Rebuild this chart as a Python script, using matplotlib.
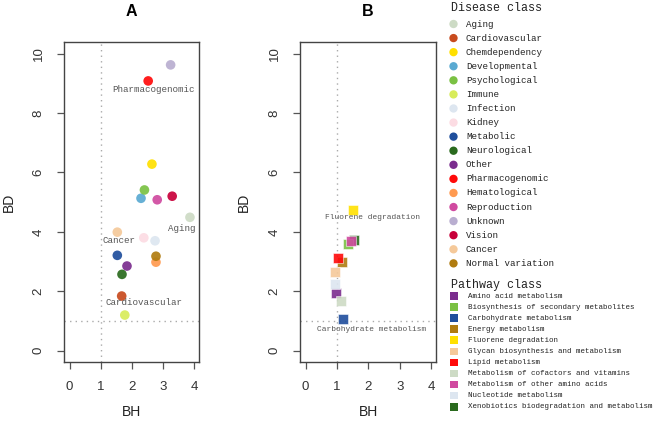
import matplotlib
matplotlib.use("Agg")
import matplotlib.pyplot as plt

# ---------------- data ----------------
disease_classes = ["Aging", "Cardiovascular", "Chemdependency", "Developmental",
                   "Psychological", "Immune", "Infection", "Kidney", "Metabolic",
                   "Neurological", "Other", "Pharmacogenomic", "Hematological",
                   "Reproduction", "Unknown", "Vision", "Cancer", "Normal variation"]
disease_colors = ["#cddbc5", "#c84b1e", "#ffe000", "#5aaad2", "#7ac143", "#d8ec5a",
                  "#dde6f0", "#fcdce3", "#1f4e9c", "#2a6a1e", "#7b2d8e", "#ff0a0a",
                  "#ff9a50", "#d04aa0", "#b9aed0", "#c8003a", "#f5c99a", "#b07c10"]
disease_bh = [3.86, 1.67, 2.64, 2.29, 2.40, 1.77, 2.74, 2.38, 1.53,
              1.68, 1.84, 2.52, 2.77, 2.81, 3.24, 3.29, 1.53, 2.77]
disease_bd = [4.49, 1.84, 6.28, 5.13, 5.41, 1.20, 3.70, 3.80, 3.21,
              2.57, 2.85, 9.08, 2.98, 5.08, 9.62, 5.20, 3.99, 3.18]

pathway_classes = ["Amino acid metabolism", "Biosynthesis of secondary metabolites",
                   "Carbohydrate metabolism", "Energy metabolism", "Fluorene degradation",
                   "Glycan biosynthesis and metabolism", "Lipid metabolism",
                   "Metabolism of cofactors and vitamins", "Metabolism of other amino acids",
                   "Nucleotide metabolism", "Xenobiotics biodegradation and metabolism"]
pathway_colors = ["#7b2d8e", "#7ac143", "#1f4e9c", "#b07c10", "#ffe000", "#f5c99a",
                  "#ff0a0a", "#cddbc5", "#d04aa0", "#dde6f0", "#2a6a1e"]
pathway_bh = [0.98, 1.36, 1.18, 1.15, 1.50, 0.95, 1.02, 1.14, 1.45, 0.95, 1.55]
pathway_bd = [1.93, 3.60, 1.08, 2.98, 4.73, 2.64, 3.13, 1.67, 3.70, 2.25, 3.74]

# annotated classes: (label, x, y)
a_labels = ["Pharmacogenomic", "Aging", "Cancer", "Cardiovascular"]
a_label_x = [2.68, 3.61, 1.59, 2.39]
a_label_y = [8.80, 4.12, 3.72, 1.62]
b_labels = ["Fluorene degradation", "Carbohydrate metabolism"]
b_label_x = [2.13, 2.10]
b_label_y = [4.48, 0.72]

x_ticks = [0, 1, 2, 3, 4]
y_ticks = [0, 2, 4, 6, 8, 10]

# ---------------- figure ----------------
W, H = 662, 428
fig = plt.figure(figsize=(W / 100, H / 100), dpi=100)
MONO = "Liberation Mono"
SANS = "Liberation Sans"


def px_axes(x0, x1, y0, y1):
    return fig.add_axes([x0 / W, 1 - y1 / H, (x1 - x0) / W, (y1 - y0) / H])


def style(ax):
    ax.set_xlim(-0.18, 4.15)
    ax.set_ylim(-0.38, 10.39)
    ax.set_xticks(x_ticks)
    ax.set_yticks(y_ticks)
    for s in ax.spines.values():
        s.set_color("#444444")
        s.set_linewidth(1.0)
    ax.tick_params(axis="both", length=5, width=0.9, color="#555555",
                   labelsize=9.5, labelcolor="#333333", pad=9)
    ax.tick_params(axis="y", labelrotation=90)
    for lab in ax.get_yticklabels():
        lab.set_va("center")
    for lab in ax.get_xticklabels() + ax.get_yticklabels():
        lab.set_fontfamily(SANS)
    ax.axvline(1, color="#aaaaaa", linestyle=(0, (1, 3)), lw=1, zorder=0)
    ax.axhline(1, color="#aaaaaa", linestyle=(0, (1, 3)), lw=1, zorder=0)


axA = px_axes(64, 199, 42, 362)
axB = px_axes(300, 436, 42, 362)
style(axA)
style(axB)

axA.scatter(disease_bh, disease_bd, s=48, c=disease_colors, alpha=0.92,
            edgecolors="none", zorder=3)
for t, x, y in zip(a_labels, a_label_x, a_label_y):
    axA.text(x, y, t, ha="center", va="center", fontsize=6.6, family=MONO,
             color="#555555", zorder=4)

order = [0, 2, 3, 5, 6, 7, 9, 4, 10, 1, 8]
axB.scatter([pathway_bh[i] for i in order], [pathway_bd[i] for i in order], s=52,
            marker="s", c=[pathway_colors[i] for i in order], alpha=0.9,
            edgecolors="white", linewidths=0.4, zorder=3)
for t, x, y in zip(b_labels, b_label_x, b_label_y):
    axB.text(x, y, t, ha="center", va="center", fontsize=5.7, family=MONO,
             color="#555555", zorder=4)

for ax, cx, t in [(axA, 131.5, "A"), (axB, 368, "B")]:
    fig.text(cx / W, 1 - 11 / H, t, ha="center", va="center", fontsize=11.5,
             fontweight="bold", family=SANS)
    fig.text(cx / W, 1 - 412 / H, "BH", ha="center", va="center", fontsize=10,
             family=SANS, color="#222222")
for x in [9, 244]:
    fig.text(x / W, 1 - 202 / H, "BD", ha="center", va="center", rotation=90,
             fontsize=10, family=SANS, color="#222222")

# ---------------- legends ----------------
leg = fig.add_axes([0, 0, 1, 1])
leg.set_xlim(0, W)
leg.set_ylim(H, 0)
leg.axis("off")

leg.text(451, 8, "Disease class", ha="left", va="center", fontsize=8.4,
         family=MONO, color="#222222")
d_rows = [24 + 14.08 * i for i in range(len(disease_classes))]
leg.scatter([453.5] * len(d_rows), d_rows, s=36, c=disease_colors, edgecolors="none")
for name, y in zip(disease_classes, d_rows):
    leg.text(466, y, name, ha="left", va="center", fontsize=6.6, family=MONO,
             color="#222222")

leg.text(451, 285, "Pathway class", ha="left", va="center", fontsize=8.4,
         family=MONO, color="#222222")
p_rows = [296 + 11.07 * i for i in range(len(pathway_classes))]
leg.scatter([454] * len(p_rows), p_rows, s=30, marker="s", c=pathway_colors,
            edgecolors="none")
for name, y in zip(pathway_classes, p_rows):
    leg.text(468, y, name, ha="left", va="center", fontsize=5.45, family=MONO,
             color="#222222")

fig.savefig("out.png", dpi=100)
